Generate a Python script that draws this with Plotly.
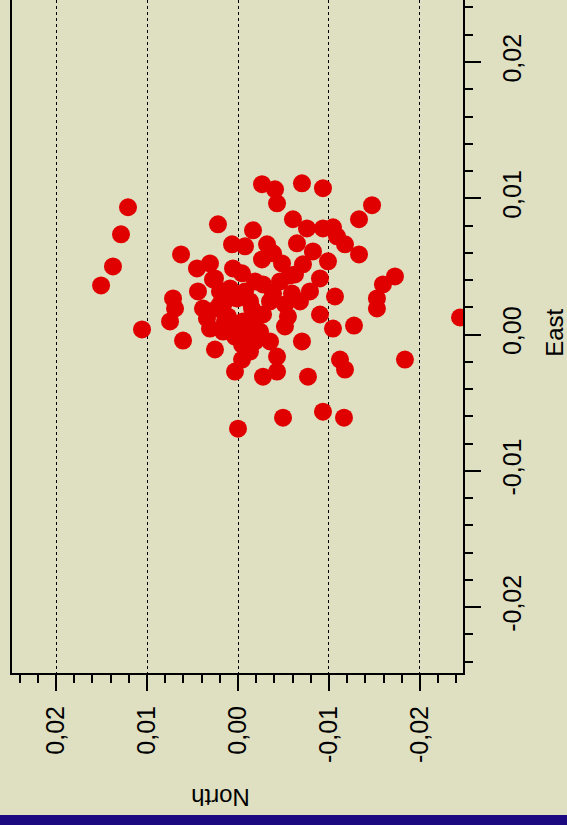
import plotly.graph_objects as go

# Position offsets (metres): north component and east component of each fix
north = [
    0.01209, 0.01286, 0.01374, 0.01505, 0.01055, 0.00626, 0.00451, 0.00308,
    0.00220, 0.00275, 0.00440, 0.00692, 0.00747, 0.00604, 0.00385, 0.00308,
    0.00253, 0.00341, 0.00714,
    -0.00264, -0.00407, -0.00429, -0.00703, -0.00934, -0.00165, -0.00604, -0.00758,
    -0.00934, -0.01088, -0.00648, -0.00824, -0.00989, 0.00066, -0.00077, -0.00319,
    -0.00385, -0.00264, 0.00055, -0.00044, 0.00253, 0.00088, -0.00275, -0.00462,
    -0.00626, -0.00714, -0.00901, -0.00791, -0.00593, -0.00385, -0.01066, 0.00198,
    0.00011, -0.00154, -0.00275, -0.00549, -0.00901, -0.01044, 0.00088, -0.00110,
    -0.00352, -0.00703, -0.00044, -0.00429, -0.00044, 0.00033, -0.00275, -0.00429,
    -0.00769, 0.00165, -0.00154, 0.00231, -0.00055, -0.00571, -0.00132,
    -0.00516, -0.00242, 0.00110,
    0.00143, -0.00077, -0.00187, 0.00143, 0.00033, -0.00187, -0.00516, -0.00132,
    0.00198, -0.00352, -0.00681, -0.00484,
    -0.01473, -0.01330, -0.01044, -0.01176, -0.01330, -0.01725, -0.01593, -0.01527,
    -0.01527, -0.01275, -0.01121, -0.01176, -0.01835, -0.02440, -0.01165, -0.00934,
    -0.00495, 0.00000,
]
east = [
    0.00934, 0.00735, 0.00500, 0.00360, 0.00037, 0.00588, 0.00485, 0.00522,
    0.00809, 0.00404, 0.00316, 0.00191, 0.00096, -0.00044, 0.00191, 0.00044,
    -0.00110, 0.00118, 0.00265,
    0.01103, 0.01066, 0.00963, 0.01110, 0.01074, 0.00765, 0.00846, 0.00779,
    0.00779, 0.00721, 0.00669, 0.00610, 0.00537, 0.00662, 0.00647, 0.00662,
    0.00596, 0.00551, 0.00485, 0.00449, 0.00412, 0.00338, 0.00368, 0.00390,
    0.00441, 0.00515, 0.00412, 0.00316, 0.00301, 0.00301, 0.00279, 0.00221,
    0.00265, 0.00191, 0.00147, 0.00132, 0.00147, 0.00044, 0.00044, 0.00044,
    -0.00051, -0.00051, -0.00074, -0.00162, -0.00184, -0.00272, -0.00309, -0.00272,
    -0.00309, 0.00022, 0.00118, 0.00191, 0.00096, 0.00434, 0.00243,
    0.00221, 0.00022, 0.00132,
    0.00243, 0.00316, 0.00390, 0.00096, -0.00015, -0.00051, 0.00059, -0.00125,
    0.00316, 0.00243, 0.00243, 0.00522,
    0.00949, 0.00846, 0.00787, 0.00662, 0.00588, 0.00426, 0.00368, 0.00265,
    0.00191, 0.00066, -0.00184, -0.00257, -0.00184, 0.00125, -0.00610, -0.00566,
    -0.00610, -0.00691,
]

tick_vals = [-0.02, -0.01, 0.0, 0.01, 0.02]
tick_text = ["-0,02", "-0,01", "0,00", "0,01", "0,02"]

BG = "#DFDFC1"
FONT = "Liberation Sans, Arial, sans-serif"

fig = go.Figure(
    go.Scatter(
        x=north,
        y=east,
        mode="markers",
        marker=dict(color="#E00000", size=18, line=dict(width=0)),
        hoverinfo="skip",
    )
)

fig.update_layout(
    width=567,
    height=825,
    margin=dict(l=12, r=104, t=0, b=152),
    paper_bgcolor=BG,
    plot_bgcolor=BG,
    showlegend=False,
    font=dict(family=FONT, size=25, color="black"),
)

fig.update_xaxes(
    range=[0.02484, -0.02473],
    tickvals=tick_vals,
    ticktext=tick_text,
    tickangle=-90,
    ticks="outside",
    ticklen=16,
    tickwidth=2,
    tickcolor="black",
    ticklabelstandoff=5,
    minor=dict(dtick=0.002, tick0=0, ticks="outside", ticklen=8,
               tickwidth=2, tickcolor="black", showgrid=False),
    showline=True,
    linecolor="black",
    linewidth=2,
    showgrid=True,
    gridcolor="black",
    gridwidth=1,
    griddash="dot",
    zeroline=False,
)

fig.update_yaxes(
    side="right",
    range=[-0.02484, 0.02455],
    tickvals=tick_vals,
    ticktext=tick_text,
    tickangle=-90,
    ticks="outside",
    ticklen=16,
    tickwidth=2,
    tickcolor="black",
    ticklabelstandoff=10,
    minor=dict(dtick=0.002, tick0=0, ticks="outside", ticklen=8,
               tickwidth=2, tickcolor="black", showgrid=False),
    showline=True,
    mirror=True,
    linecolor="black",
    linewidth=2,
    showgrid=False,
    zeroline=False,
)

# Axis titles: "North" is printed upside down below, "East" reads upward on the right
fig.add_annotation(text="North", xref="paper", yref="paper", x=0.461, y=-0.184,
                   xanchor="center", yanchor="middle",
                   showarrow=False, textangle=180, font=dict(size=24))
fig.add_annotation(text="East", xref="paper", yref="paper", x=1.201, y=0.505,
                   xanchor="center", yanchor="middle",
                   showarrow=False, textangle=-90, font=dict(size=24))

# Dark band along the bottom edge of the window
fig.add_shape(type="rect", xref="paper", yref="paper",
              x0=-0.1, x1=1.3, y0=-0.24, y1=-0.211,
              fillcolor="#1C0A80", line=dict(width=0), layer="above")

fig.write_html("out.html")
